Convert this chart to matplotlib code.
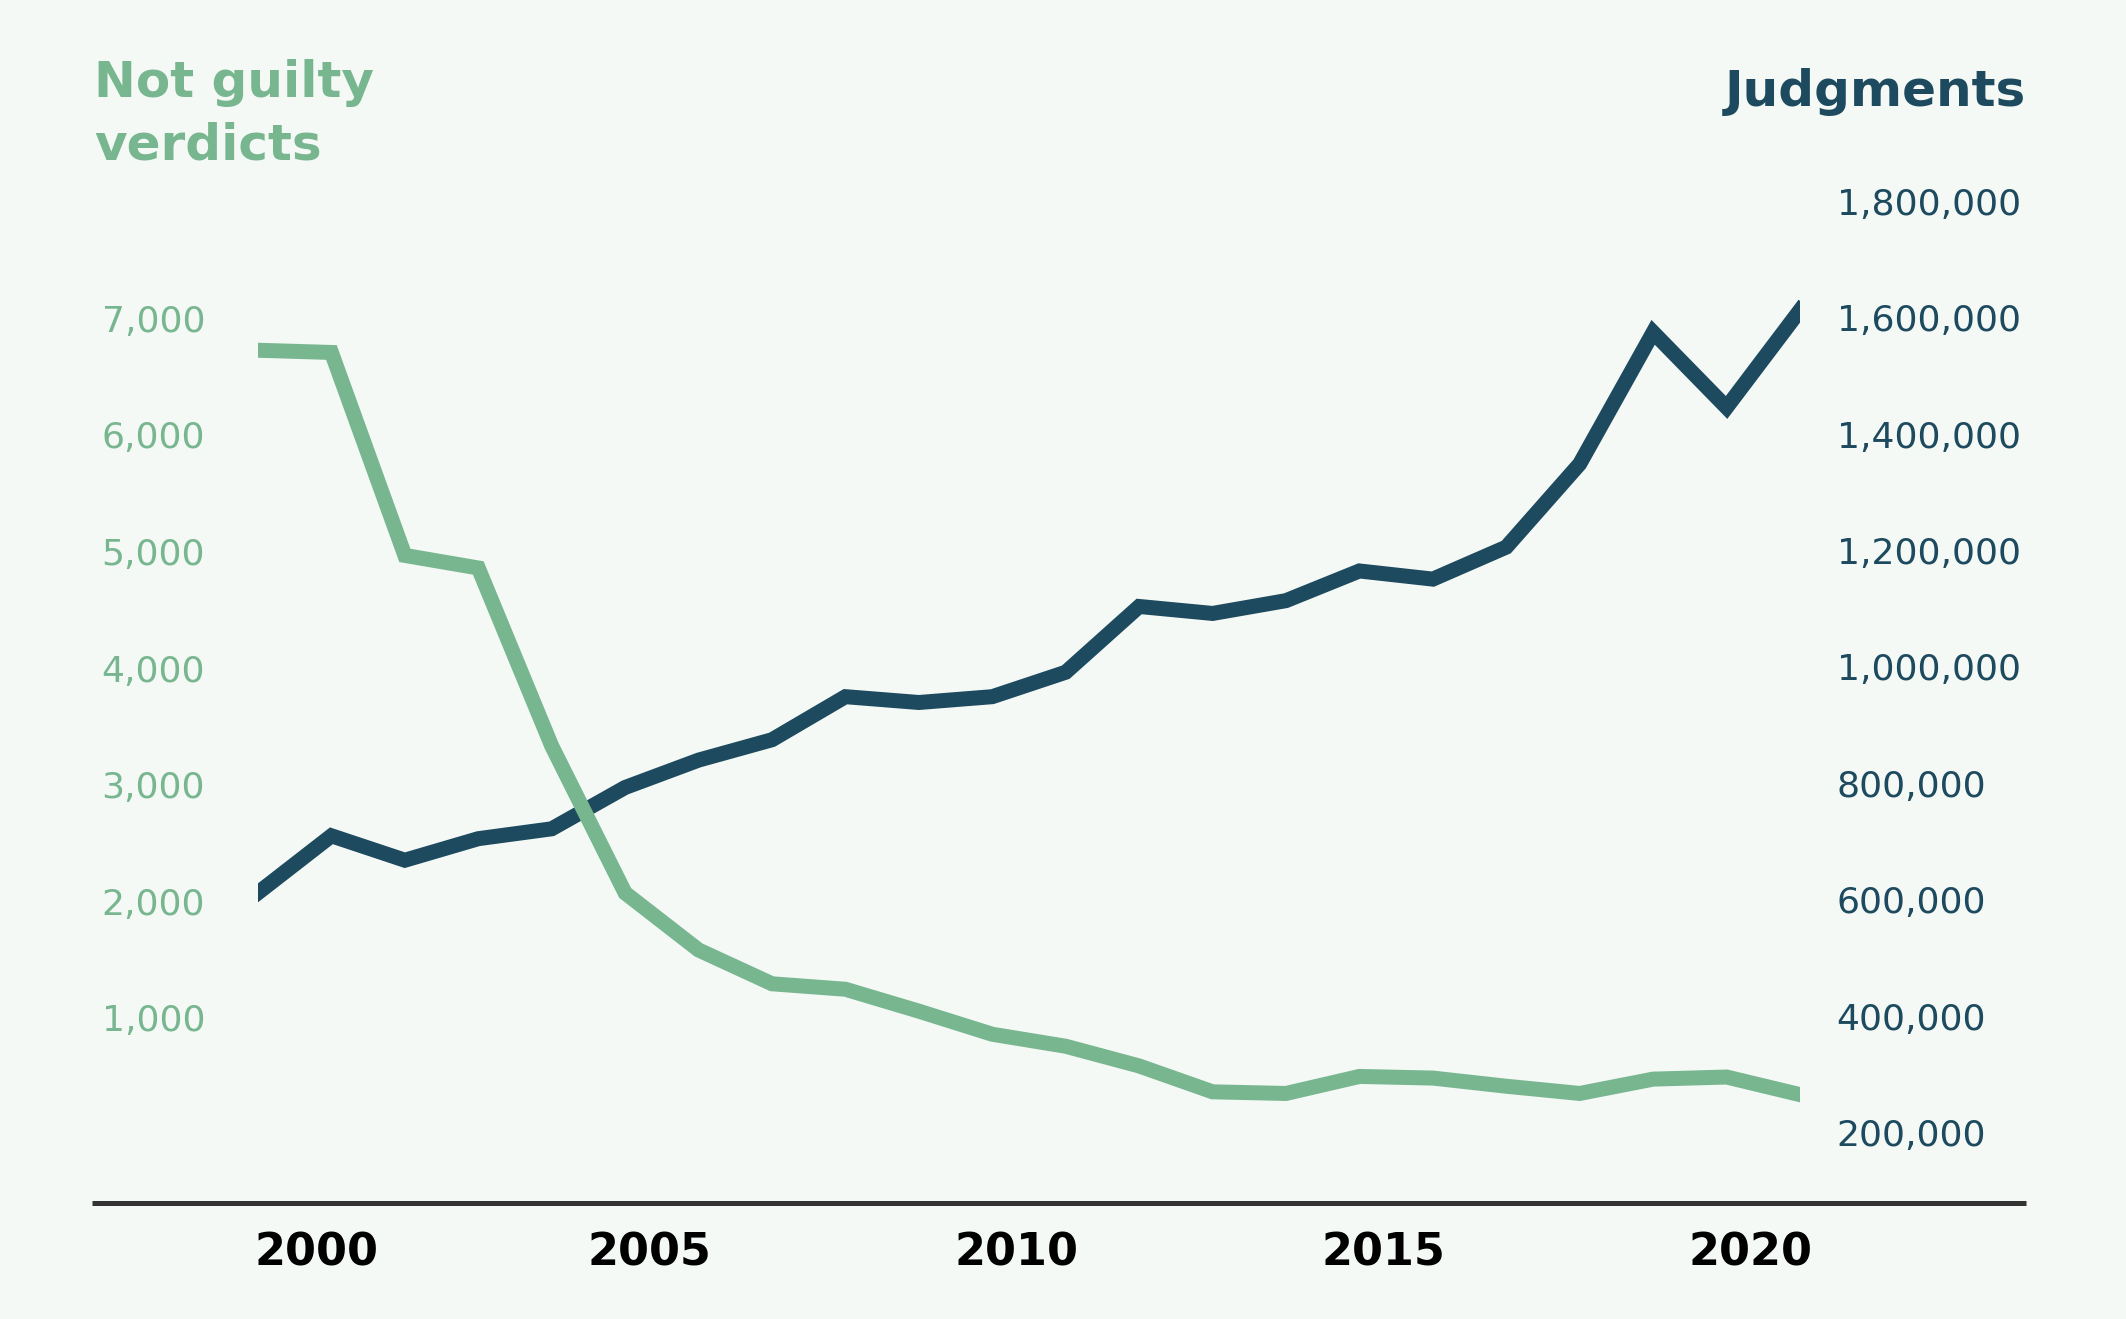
import matplotlib
matplotlib.use('Agg')
import matplotlib.pyplot as plt
import matplotlib.transforms as mtransforms
from matplotlib.lines import Line2D
from matplotlib.ticker import FuncFormatter

# values
years = list(range(2000, 2022))
not_guilty = [6727, 6708, 4967, 4859, 3332, 2071, 1582, 1292, 1245, 1057, 859,
              756, 587, 365, 351, 497, 483, 413, 351, 474, 492, 341]
judgments = [612000, 710000, 668000, 705000, 722000, 793000, 840000, 875000,
             949000, 939000, 949000, 991000, 1104000, 1092000, 1114000, 1165000,
             1151000, 1206000, 1349000, 1575000, 1446000, 1613000]

left_ticks = [1000, 2000, 3000, 4000, 5000, 6000, 7000]
right_ticks = [200000, 400000, 600000, 800000, 1000000, 1200000, 1400000,
               1600000, 1800000]
year_ticks = [2000, 2005, 2010, 2015, 2020]

green = '#78B690'
blue = '#1D4A5E'
bg = '#F4F9F6'

plt.rcParams['font.family'] = 'DejaVu Sans'

W, H = 2126, 1319
fig = plt.figure(figsize=(W / 200, H / 200), dpi=200, facecolor=bg)
ax1 = fig.add_axes([258 / W, 1 - 1200 / H, (1800 - 258) / W, 1000 / H])
ax2 = ax1.twinx()

# green on top of blue
ax1.set_zorder(ax2.get_zorder() + 1)
ax1.patch.set_visible(False)
ax2.patch.set_visible(False)

ax2.plot(years, judgments, color=blue, lw=5.4, solid_joinstyle='miter')
ax1.plot(years, not_guilty, color=green, lw=5.4, solid_joinstyle='miter')

ax1.set_xlim(2000, 2021)
ax1.set_ylim(-563, 8016)
ax2.set_ylim(84193, 1802394)

for a in (ax1, ax2):
    for s in a.spines.values():
        s.set_visible(False)

fmt = FuncFormatter(lambda v, p: f'{int(v):,}')

ax1.set_yticks(left_ticks)
ax1.yaxis.set_major_formatter(fmt)
ax1.tick_params(axis='y', length=0, pad=56.3, labelcolor=green, labelsize=13)
plt.setp(ax1.get_yticklabels(), ha='left')

ax2.set_yticks(right_ticks)
ax2.yaxis.set_major_formatter(fmt)
ax2.tick_params(axis='y', length=0, pad=13.2, labelcolor=blue, labelsize=13)

ax1.set_xticks(year_ticks)
ax1.tick_params(axis='x', length=0, pad=11.5, labelcolor='black', labelsize=16)
for i, lab in enumerate(ax1.get_xticklabels()):
    dx = 0.29 if i == 0 else 0.12
    shift = mtransforms.ScaledTranslation(dx, 0, fig.dpi_scale_trans)
    lab.set_fontweight('bold')
    lab.set_transform(lab.get_transform() + shift)

# bottom rule
fig.add_artist(Line2D([92 / W, 2026 / W], [1 - 1202.5 / H] * 2,
                      transform=fig.transFigure, color='#333333', lw=1.8,
                      solid_capstyle='butt'))

fig.text(94 / W, 1 - 97 / H, 'Not guilty', fontsize=18, fontweight='bold',
         color=green, ha='left', va='baseline')
fig.text(94 / W, 1 - 159 / H, 'verdicts', fontsize=18, fontweight='bold',
         color=green, ha='left', va='baseline')
fig.text(2026 / W, 1 - 106 / H, 'Judgments', fontsize=18, fontweight='bold',
         color=blue, ha='right', va='baseline')

fig.savefig('out.png', dpi=200, facecolor=bg)
